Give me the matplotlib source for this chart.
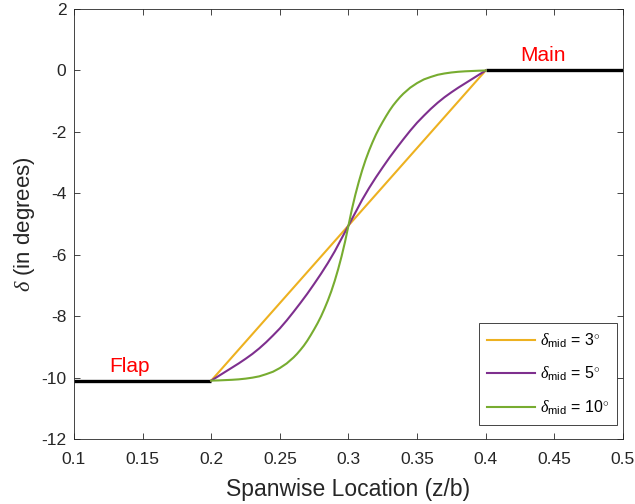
import numpy as np
import matplotlib.pyplot as plt

plt.rcParams['font.family'] = ['Liberation Sans', 'DejaVu Sans']
plt.rcParams['mathtext.fontset'] = 'custom'
plt.rcParams['mathtext.rm'] = 'Liberation Sans'
plt.rcParams['mathtext.it'] = 'Liberation Serif:italic'
plt.rcParams['axes.unicode_minus'] = False

# Datos
z_tr = [0.200, 0.205, 0.210, 0.215, 0.220, 0.225, 0.230, 0.235, 0.240, 0.245,
        0.250, 0.255, 0.260, 0.265, 0.270, 0.275, 0.280, 0.285, 0.290, 0.295,
        0.300, 0.305, 0.310, 0.315, 0.320, 0.325, 0.330, 0.335, 0.340, 0.345,
        0.350, 0.355, 0.360, 0.365, 0.370, 0.375, 0.380, 0.385, 0.390, 0.395,
        0.400]

d_mid3_z = [0.2, 0.4]
d_mid3 = [-10.1, 0.0]

d_mid5 = [-10.10, -9.96, -9.82, -9.68, -9.54, -9.39, -9.23, -9.05, -8.85, -8.63,
          -8.40, -8.14, -7.86, -7.57, -7.27, -6.95, -6.62, -6.27, -5.89, -5.47,
          -5.05, -4.63, -4.21, -3.83, -3.48, -3.15, -2.83, -2.53, -2.24, -1.96,
          -1.70, -1.47, -1.25, -1.05, -0.87, -0.71, -0.56, -0.42, -0.28, -0.14,
          0.00]

# curva de 10 grados: puntos mas densos en la zona central
z_10 = [0.200, 0.205, 0.210, 0.215, 0.220, 0.225, 0.230, 0.235, 0.240, 0.245,
        0.250, 0.255,
        0.2600, 0.2625, 0.2650, 0.2675, 0.2700, 0.2725, 0.2750, 0.2775,
        0.2800, 0.2825, 0.2850, 0.2875, 0.2900, 0.2925, 0.2950, 0.2975,
        0.3000, 0.3025, 0.3050, 0.3075, 0.3100, 0.3125, 0.3150, 0.3175,
        0.3200, 0.3225, 0.3250, 0.3275, 0.3300, 0.3325, 0.3350, 0.3375,
        0.3400,
        0.345, 0.350, 0.355, 0.360, 0.365, 0.370, 0.375, 0.380, 0.385, 0.390,
        0.395, 0.400]

d_mid10 = [-10.100, -10.093, -10.083, -10.073, -10.058, -10.035, -10.003, -9.960, -9.890, -9.810,
           -9.690, -9.540,
           -9.345, -9.23, -9.10, -8.96, -8.80, -8.62, -8.43, -8.23,
           -8.01, -7.76, -7.49, -7.19, -6.85, -6.47, -6.05, -5.58,
           -5.05, -4.52, -4.05, -3.63, -3.25, -2.91, -2.61, -2.34,
           -2.09, -1.87, -1.67, -1.48, -1.30, -1.14, -1.00, -0.87,
           -0.755,
           -0.560, -0.410, -0.290, -0.210, -0.140, -0.097, -0.065, -0.042, -0.027, -0.017,
           -0.007, 0.000]

flap_z = [0.1, 0.2]
flap_d = [-10.1, -10.1]
main_z = [0.4, 0.5]
main_d = [0.0, 0.0]

fig = plt.figure(figsize=(6.35, 5.04), dpi=100)
ax = fig.add_axes([0.1165, 0.129, 0.8645, 0.853])

ax.plot(flap_z, flap_d, color='black', linewidth=2.4, solid_capstyle='butt')
ax.plot(main_z, main_d, color='black', linewidth=2.4, solid_capstyle='butt')
l1, = ax.plot(d_mid3_z, d_mid3, color='#EDB120', linewidth=1.5)
l2, = ax.plot(z_tr, d_mid5, color='#7E2F8E', linewidth=1.5)
l3, = ax.plot(z_10, d_mid10, color='#77AC30', linewidth=1.5)

ax.text(0.1255, -9.65, 'Flap', color='red', fontsize=15, va='center', ha='left')
ax.text(0.4255, 0.5, 'Main', color='red', fontsize=15, va='center', ha='left')

ax.set_xlim(0.1, 0.5)
ax.set_ylim(-12, 2)
ax.set_xticks(np.arange(0.1, 0.51, 0.05))
ax.set_xticklabels(['0.1', '0.15', '0.2', '0.25', '0.3', '0.35', '0.4', '0.45', '0.5'])
ax.set_yticks(np.arange(-12, 3, 2))
ax.tick_params(direction='in', top=True, right=True, labelsize=12.5,
               colors='#262626', length=4, width=0.6)
ax.tick_params(axis='x', pad=9.5)
ax.tick_params(axis='y', pad=5.5)
for s in ax.spines.values():
    s.set_color('#262626')
    s.set_linewidth(0.6)

ax.set_xlabel('Spanwise Location (z/b)', fontsize=16.5, color='#262626', labelpad=7.5)
ax.set_ylabel(r'$\delta$ (in degrees)', fontsize=16, color='#262626', labelpad=3)

leg = ax.legend([l1, l2, l3],
                [r'$\delta_{\mathrm{mid}}$ = 3$^{\circ}$',
                 r'$\delta_{\mathrm{mid}}$ = 5$^{\circ}$',
                 r'$\delta_{\mathrm{mid}}$ = 10$^{\circ}$'],
                loc='lower right', bbox_to_anchor=(0.989, 0.033),
                fontsize=11.5, fancybox=False, framealpha=1,
                edgecolor='#262626', borderaxespad=0, handlelength=3.0,
                handletextpad=0.3, labelspacing=0.95, borderpad=0.5)
leg.get_frame().set_linewidth(0.6)

fig.savefig('out.png', dpi=100)
